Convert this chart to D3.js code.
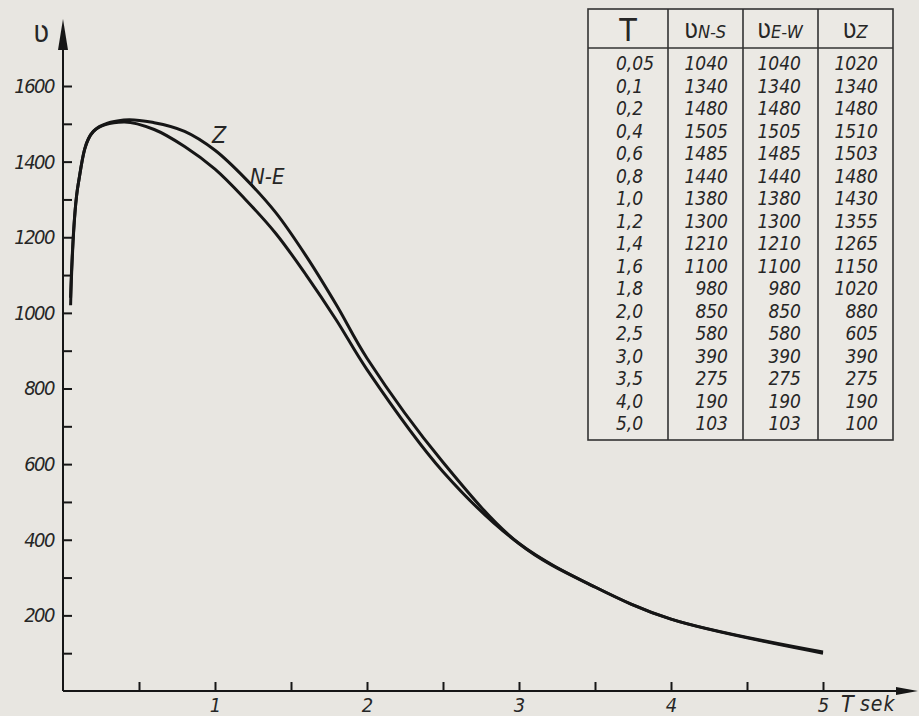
<!DOCTYPE html>
<html lang="pl">
<head>
  <meta charset="UTF-8">
  <title>v(T)</title>
  <script src="https://cdn.jsdelivr.net/npm/d3@7"></script>
  <style>
    body { margin: 0; background: #e8e6e1; }
    svg text { font-family: "DejaVu Sans Condensed", "DejaVu Sans", sans-serif; font-style: italic; fill: #262626; }
  </style>
</head>
<body>
<div id="chart"></div>
<script>

// table values
var periods = [0.05, 0.1, 0.2, 0.4, 0.6, 0.8, 1.0, 1.2, 1.4, 1.6, 1.8, 2.0, 2.5, 3.0, 3.5, 4.0, 5.0];
var periodLabels = ["0,05","0,1","0,2","0,4","0,6","0,8","1,0","1,2","1,4","1,6","1,8","2,0","2,5","3,0","3,5","4,0","5,0"];
var vNS = [1040, 1340, 1480, 1505, 1485, 1440, 1380, 1300, 1210, 1100, 980, 850, 580, 390, 275, 190, 103];
var vEW = [1040, 1340, 1480, 1505, 1485, 1440, 1380, 1300, 1210, 1100, 980, 850, 580, 390, 275, 190, 103];
var vZ  = [1020, 1340, 1480, 1510, 1503, 1480, 1430, 1355, 1265, 1150, 1020, 880, 605, 390, 275, 190, 100];

var yMajor = [200, 400, 600, 800, 1000, 1200, 1400, 1600];
var yMinor = [100, 300, 500, 700, 900, 1100, 1300, 1500];
var xTicks = [0.5, 1, 1.5, 2, 2.5, 3, 3.5, 4, 4.5, 5];
var xLabels = [1, 2, 3, 4, 5];

var W = 919, H = 716;
var ink = "#161616";

var svg = d3.select("#chart").append("svg")
    .attr("width", W).attr("height", H);

var x = d3.scaleLinear().domain([0, 5]).range([63, 823]);
var y = d3.scaleLinear().domain([0, 1600]).range([691, 86]);

// axes lines with arrows
svg.append("line")
    .attr("x1", x(0)).attr("x2", x(0))
    .attr("y1", y(0)).attr("y2", 40)
    .attr("stroke", ink).attr("stroke-width", 2);
svg.append("path")
    .attr("d", "M" + (x(0) - 5) + ",50L" + x(0) + ",19L" + (x(0) + 5) + ",50Z")
    .attr("fill", ink);

svg.append("line")
    .attr("x1", x(0)).attr("x2", 900)
    .attr("y1", y(0)).attr("y2", y(0))
    .attr("stroke", ink).attr("stroke-width", 2);
svg.append("path")
    .attr("d", "M896," + (y(0) - 4) + "L918," + y(0) + "L896," + (y(0) + 4) + "Z")
    .attr("fill", ink);

// y ticks
var yAxisMinor = d3.axisLeft(y).tickValues(yMinor).tickSize(-9).tickFormat("");
var yAxisMajor = d3.axisLeft(y).tickValues(yMajor).tickSize(-9).tickPadding(9)
    .tickFormat(d3.format("d"));

svg.append("g").attr("transform", "translate(" + x(0) + ",0)").call(yAxisMinor);
svg.append("g").attr("transform", "translate(" + x(0) + ",0)").call(yAxisMajor);

svg.selectAll(".domain").remove();
svg.selectAll(".tick line").attr("stroke", ink).attr("stroke-width", 2);
svg.selectAll(".tick text")
    .attr("font-size", 20)
    .attr("letter-spacing", -1.5);

// x ticks
var xAxis = d3.axisBottom(x).tickValues(xTicks).tickSize(-9).tickPadding(5)
    .tickFormat(function(d) { return xLabels.indexOf(d) >= 0 ? d : ""; });
var gx = svg.append("g").attr("transform", "translate(0," + y(0) + ")").call(xAxis);
gx.select(".domain").remove();
gx.selectAll(".tick line").attr("stroke", ink).attr("stroke-width", 2);
gx.selectAll(".tick text").attr("font-size", 20).attr("dy", "0.8em");

// axis titles
svg.append("text")
    .attr("x", 33).attr("y", 42)
    .attr("font-size", 30)
    .style("font-style", "normal")
    .text("ʋ");

svg.append("text")
    .attr("x", 841).attr("y", 712)
    .attr("font-size", 23)
    .attr("font-weight", 300)
    .text("T");
svg.append("text")
    .attr("x", 860).attr("y", 711)
    .attr("font-size", 21)
    .attr("letter-spacing", 1)
    .text("sek");

// curves
var line = d3.line()
    .x(function(d) { return x(d[0]); })
    .y(function(d) { return y(d[1]); })
    .curve(d3.curveCatmullRom.alpha(0.5));

var seriesNE = d3.zip(periods, vNS);
var seriesZ = d3.zip(periods, vZ);

svg.append("path").datum(seriesNE)
    .attr("d", line)
    .attr("fill", "none").attr("stroke", ink).attr("stroke-width", 3);
svg.append("path").datum(seriesZ)
    .attr("d", line)
    .attr("fill", "none").attr("stroke", ink).attr("stroke-width", 3);

// curve labels
svg.append("text")
    .attr("x", x(0.98)).attr("y", y(1450))
    .attr("font-size", 23)
    .text("Z");
svg.append("text")
    .attr("x", x(1.23)).attr("y", y(1340))
    .attr("font-size", 22)
    .text("N-E");

// table
var tab = svg.append("g");
var colX = [588, 668, 743, 818, 893];
var tabTop = 9, headBottom = 48, tabBottom = 440;

tab.append("rect")
    .attr("x", colX[0]).attr("y", tabTop)
    .attr("width", colX[4] - colX[0]).attr("height", tabBottom - tabTop)
    .attr("fill", "#ebe9e4").attr("stroke", "#333").attr("stroke-width", 1.6);
tab.append("line")
    .attr("x1", colX[0]).attr("x2", colX[4])
    .attr("y1", headBottom).attr("y2", headBottom)
    .attr("stroke", "#333").attr("stroke-width", 1.6);
tab.selectAll("line.col")
    .data(colX.slice(1, 4))
    .enter().append("line")
    .attr("class", "col")
    .attr("x1", function(d) { return d; }).attr("x2", function(d) { return d; })
    .attr("y1", tabTop).attr("y2", tabBottom)
    .attr("stroke", "#333").attr("stroke-width", 1.6);

// headers
tab.append("text")
    .attr("x", 628).attr("y", 41)
    .attr("text-anchor", "middle")
    .attr("font-size", 32).attr("font-weight", 200)
    .style("font-style", "normal")
    .text("T");

var headers = [
  {sym: "ʋ", sub: "N-S", cx: 705},
  {sym: "ʋ", sub: "E-W", cx: 780},
  {sym: "ʋ", sub: "Z", cx: 855}
];
var ht = tab.selectAll("text.head")
    .data(headers)
    .enter().append("text")
    .attr("class", "head")
    .attr("x", function(d) { return d.cx; })
    .attr("y", 38)
    .attr("text-anchor", "middle");
ht.append("tspan")
    .attr("font-size", 26)
    .style("font-style", "normal")
    .text(function(d) { return d.sym; });
ht.append("tspan")
    .attr("font-size", 18)
    .text(function(d) { return d.sub; });

var rowY = d3.scaleLinear().domain([0, periods.length - 1]).range([70, 430]);

tab.selectAll("text.per")
    .data(periodLabels)
    .enter().append("text")
    .attr("class", "per")
    .attr("x", 616)
    .attr("y", function(d, i) { return rowY(i); })
    .attr("font-size", 19)
    .text(function(d) { return d; });

var valueCols = [
  {vals: vNS, right: 728},
  {vals: vEW, right: 801},
  {vals: vZ, right: 878}
];
valueCols.forEach(function(c) {
  tab.selectAll(null)
      .data(c.vals)
      .enter().append("text")
      .attr("x", c.right)
      .attr("y", function(d, i) { return rowY(i); })
      .attr("text-anchor", "end")
      .attr("font-size", 19)
      .text(function(d) { return d; });
});

</script>
</body>
</html>
